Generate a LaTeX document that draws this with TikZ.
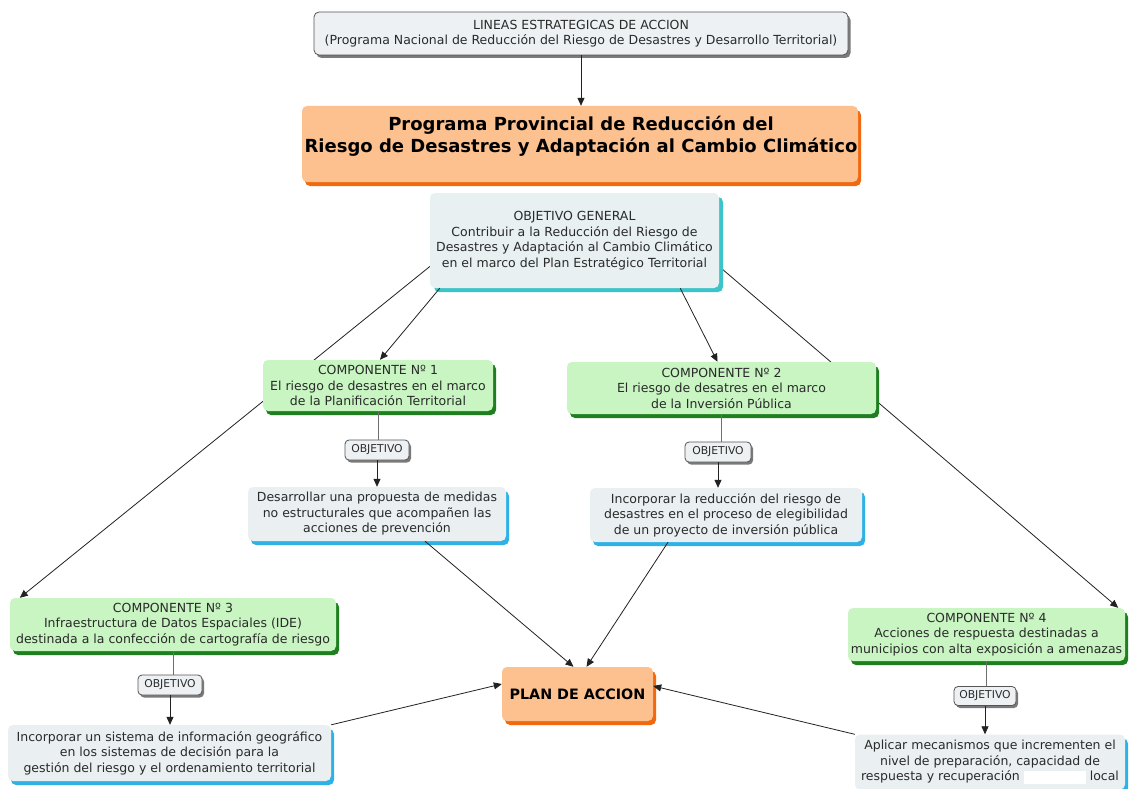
\documentclass[tikz,border=0pt]{standalone}
\usepackage{fontspec}
\setmainfont{DejaVu Sans}
\usetikzlibrary{shadows,arrows.meta,backgrounds,calc}
\definecolor{txt}{HTML}{2A2A2A}
\definecolor{grayfill}{HTML}{EEF1F3}
\definecolor{graydark}{HTML}{555555}
\definecolor{grayshadow}{HTML}{7A7A7A}
\definecolor{orfill}{HTML}{FCC18E}
\definecolor{orshadow}{HTML}{F0680F}
\definecolor{grfill}{HTML}{C8F5C2}
\definecolor{grshadow}{HTML}{1F7E1F}
\definecolor{ogfill}{HTML}{E8F0F2}
\definecolor{ogshadow}{HTML}{3CC4C8}
\definecolor{bfill}{HTML}{EAEFF2}
\definecolor{bshadow}{HTML}{2EB2E6}
\definecolor{linec}{HTML}{222222}
\definecolor{linegray}{HTML}{6F6F6F}
\begin{document}
\begin{tikzpicture}[x=1pt,y=-1pt,
  base/.style={rectangle, rounded corners=5pt, inner sep=2pt, align=center, text=txt,
    font=\fontsize{12.5}{15.5}\selectfont},
  topbox/.style={base, fill=grayfill, draw=graydark, line width=0.8pt,
    drop shadow={shadow xshift=2.5pt, shadow yshift=-3pt, fill=grayshadow, opacity=1}},
  orbox/.style={base, fill=orfill,
    drop shadow={shadow xshift=3pt, shadow yshift=-4pt, fill=orshadow, opacity=1}},
  grbox/.style={base, fill=grfill,
    drop shadow={shadow xshift=3pt, shadow yshift=-4pt, fill=grshadow, opacity=1}},
  ogbox/.style={base, fill=ogfill,
    drop shadow={shadow xshift=4pt, shadow yshift=-4pt, fill=ogshadow, opacity=1}},
  bbox/.style={base, fill=bfill,
    drop shadow={shadow xshift=3pt, shadow yshift=-4pt, fill=bshadow, opacity=1}},
  objlab/.style={rectangle, rounded corners=4pt, inner sep=1pt, fill=grayfill, draw=graydark,
    line width=0.8pt, text=txt, font=\fontsize{10.8}{12}\selectfont,
    drop shadow={shadow xshift=2pt, shadow yshift=-2.5pt, fill=grayshadow, opacity=1}},
  arr/.style={draw=linec, line width=0.8pt, -{Triangle[length=8pt,width=7pt]}},
  plainline/.style={draw=linegray, line width=1pt}
]
\useasboundingbox (0,0) rectangle (1129,789);

% boxes
\node[topbox, minimum width=534pt, minimum height=43pt] (top) at (581,33.5)
  {LINEAS ESTRATEGICAS DE ACCION\\(Programa Nacional de Reducción del Riesgo de Desastres y Desarrollo Territorial)};
\node[orbox, minimum width=556pt, minimum height=76pt] (prog) at (580,144) {};
\node[align=center, text=black, font=\bfseries\fontsize{18}{22.5}\selectfont] (progtxt) at (581,136)
  {Programa Provincial de Reducción del\\Riesgo de Desastres y Adaptación al Cambio Climático};
\node[ogbox, minimum width=289pt, minimum height=95pt] (og) at (574.5,240.5)
  {OBJETIVO GENERAL\\Contribuir a la Reducción del Riesgo de\\Desastres y Adaptación al Cambio Climático\\en el marco del Plan Estratégico Territorial};

\node[grbox, minimum width=230pt, minimum height=51pt] (c1) at (378,385.5)
  {COMPONENTE Nº 1\\El riesgo de desastres en el marco\\de la Planificación Territorial};
\node[objlab, minimum width=64pt, minimum height=20pt] (o1) at (377,450) {OBJETIVO};
\node[bbox, minimum width=258pt, minimum height=54pt] (d1) at (377,514)
  {Desarrollar una propuesta de medidas\\no estructurales que acompañen las\\acciones de prevención};

\node[grbox, minimum width=309pt, minimum height=52pt] (c2) at (721.5,388)
  {COMPONENTE Nº 2\\El riesgo de desatres en el marco\\de la Inversión Pública};
\node[objlab, minimum width=66pt, minimum height=20pt] (o2) at (718,452) {OBJETIVO};
\node[bbox, minimum width=272pt, minimum height=54pt] (d2) at (726,515)
  {Incorporar la reducción del riesgo de\\desastres en el proceso de elegibilidad\\de un proyecto de inversión pública};

\node[grbox, minimum width=326pt, minimum height=53pt] (c3) at (173,624.5)
  {COMPONENTE Nº 3\\Infraestructura de Datos Espaciales (IDE)\\destinada a la confección de cartografía de riesgo};
\node[objlab, minimum width=64pt, minimum height=20pt] (o3) at (170,685) {OBJETIVO};
\node[bbox, minimum width=323pt, minimum height=56pt] (d3) at (169.5,753)
  {Incorporar un sistema de información geográfico\\en los sistemas de decisión para la\\gestión del riesgo y el ordenamiento territorial};

\node[grbox, minimum width=277pt, minimum height=53pt] (c4) at (986.5,634.5)
  {COMPONENTE Nº 4\\Acciones de respuesta destinadas a\\municipios con alta exposición a amenazas};
\node[objlab, minimum width=62pt, minimum height=19pt] (o4) at (985,696) {OBJETIVO};
\node[bbox, minimum width=270pt, minimum height=55pt] (d4) at (990,762)
  {Aplicar mecanismos que incrementen el\\nivel de preparación, capacidad de\\respuesta y recuperación \textcolor{white}{\rule[-3pt]{62pt}{13pt}} local};

\node[orbox, minimum width=151pt, minimum height=54pt, text=black,
  font=\bfseries\fontsize{14.3}{17}\selectfont] (plan) at (577.5,694) {PLAN DE ACCION};

% connectors
\begin{pgfonlayer}{background}
\fill[white] (-10,-10) rectangle (1139,799);
\draw[arr] ([yshift=-26pt]og.west) -- ([xshift=10pt]c3.north west);
\draw[arr] ([yshift=-26pt]og.east) -- ([xshift=-7pt]c4.north east);
\end{pgfonlayer}

\draw[arr] (top.south) -- (top.south |- prog.north);
\draw[arr] ([xshift=10pt]og.south west) -- ([xshift=2pt]c1.north);
\draw[arr] ([xshift=-39pt]og.south east) -- ([xshift=-4pt]c2.north);

\draw[plainline] (c1.south) -- (c1.south |- o1.north);
\draw[arr] (o1.south) -- (o1.south |- d1.north);
\draw[plainline] (c2.south) -- (c2.south |- o2.north);
\draw[arr] (o2.south) -- (o2.south |- d2.north);
\draw[plainline] (c3.south) -- (c3.south |- o3.north);
\draw[arr] (o3.south) -- (o3.south |- d3.north);
\draw[plainline] (c4.south) -- (c4.south |- o4.north);
\draw[arr] (o4.south) -- (o4.south |- d4.north);

\draw[arr] ([xshift=48pt]d1.south) -- ([xshift=-4pt]plan.north);
\draw[arr] ([xshift=-58pt]d2.south) -- ([xshift=9pt]plan.north);
\draw[arr] (d3.north east) -- ([yshift=10pt]plan.west);
\draw[arr] (d4.north west) -- ([yshift=8pt]plan.east);
\end{tikzpicture}
\end{document}
